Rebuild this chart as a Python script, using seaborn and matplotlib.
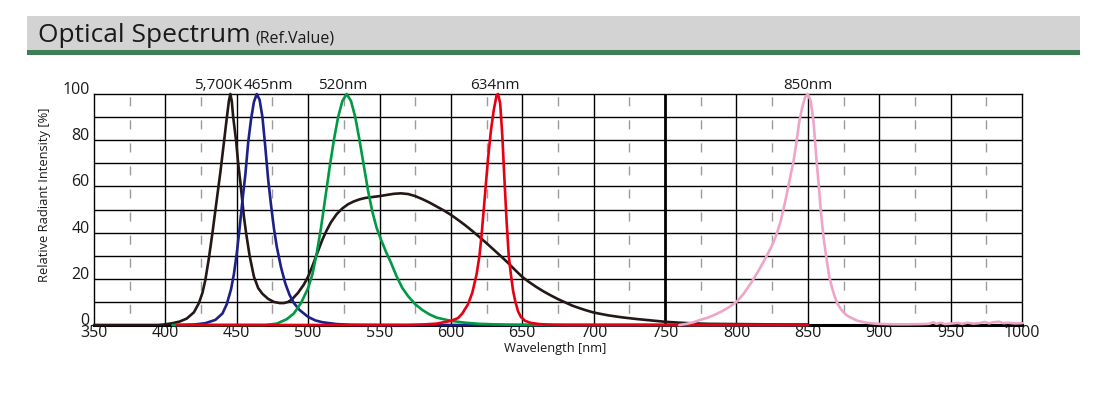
import numpy as np
import pandas as pd
import matplotlib
matplotlib.use("Agg")
import matplotlib.pyplot as plt
from matplotlib.patches import Rectangle
import seaborn as sns

# wavelength [nm] / relative intensity [%]
wl_5700k = [350, 395, 400, 405, 410, 415, 420, 423.5, 426, 428, 430.5, 433, 435, 437, 438.5, 441, 443,
            444.5, 445.5, 446.5, 447.5, 449.5, 451, 452.5, 453.5, 455, 456.5, 459, 462, 465, 468, 472,
            476, 480, 483, 486, 489, 493, 497, 500, 503, 506, 510, 513, 516, 520, 524, 528, 532, 536,
            540, 545, 550, 555, 560, 565, 570, 575, 580, 585, 590, 595, 600, 605, 610, 615, 620, 625,
            630, 635, 640, 645, 650, 655, 660, 665, 670, 675, 680, 685, 690, 695, 700, 710, 720, 730,
            740, 750, 760, 770, 780, 800, 820, 850]
val_5700k = [0, 0, 0.3, 0.8, 1.5, 2.8, 5.5, 9.5, 14, 19.5, 29, 40, 49.5, 59, 66, 79, 89.5,
             97, 100, 97, 90, 80, 70, 62, 56, 47, 40, 30, 21, 16, 13.5, 11.3,
             10, 9.5, 9.5, 10, 11.3, 14, 17.5, 21, 25.5, 30.5, 37, 41, 44.5, 48, 50.5, 52.3, 53.5, 54.4,
             55, 55.4, 55.8, 56.3, 56.8, 57, 56.7, 55.8, 54.5, 53, 51.3, 49.6, 47.7, 45.5, 43.2, 40.7, 38.1, 35.4,
             32.6, 29.8, 26.9, 23.8, 20.8, 18.5, 16.4, 14.5, 12.8, 11.2, 9.8, 8.4, 7.3, 6.3, 5.4, 4.2, 3.3, 2.6,
             2.0, 1.4, 1.0, 0.7, 0.5, 0.4, 0.3, 0.2]

wl_465 = [405, 410, 420, 428, 435, 440, 443, 446, 448, 450, 452, 454, 456, 458, 460, 462, 464, 466,
          468, 470, 472, 474, 476, 478, 481, 484, 487, 490, 494, 500, 505, 510, 520, 530, 550, 850]
val_465 = [0, 0, 0.2, 0.8, 2.2, 5, 9, 15.5, 22, 31, 42, 54, 65, 79, 89, 96.5, 100, 97.5,
           90, 77, 63, 52, 42, 34, 25, 18, 13, 9.5, 6.5, 3.5, 2, 1.2, 0.4, 0.1, 0, 0]

wl_520 = [405, 470, 478, 485, 490, 495, 500, 503, 506, 509, 512, 515, 518, 521, 524, 527, 530, 533,
          536, 539, 542, 545, 548, 551, 555, 558, 562, 566, 570, 575, 580, 585, 590, 600, 610, 620,
          640, 660, 850]
val_520 = [0, 0, 0.6, 2.5, 5, 9.5, 16, 22, 31, 42, 55, 68, 80, 90, 97, 100, 97, 90,
           80, 69, 58, 49, 42, 37, 31, 27, 21, 16, 12.5, 9, 6.5, 4.6, 3.2, 1.8, 1, 0.5,
           0.1, 0, 0]

wl_634 = [408, 570, 580, 590, 600, 605, 608, 612, 615, 618, 620, 621.5, 623, 624.5, 626, 628, 630,
          632, 633, 634.5, 636, 637.5, 639, 640.5, 642, 643.5, 645, 647, 649, 652, 656, 662, 670,
          680, 850]
val_634 = [0, 0, 0.2, 0.6, 1.8, 3, 5, 9, 14, 22, 30, 39, 50, 61, 72, 84, 93,
           99.5, 100, 96, 82, 63, 45, 30, 22, 15, 10.5, 6, 3.5, 1.8, 0.9, 0.4, 0.1,
           0, 0]

wl_850 = [760, 765, 770, 775, 780, 785, 790, 795, 800, 805, 810, 815, 820, 825, 828, 831, 834, 837,
          840, 842, 844, 846, 848, 850, 852, 854, 856, 858, 859, 861, 863, 865, 867, 869, 871, 873,
          875, 877, 880, 885, 890, 895, 900, 910, 920, 930, 935, 938, 940, 943, 946, 950, 955, 958,
          962, 966, 970, 974, 977, 980, 984, 987, 990, 995, 1000]
val_850 = [0, 0.5, 1.2, 2.3, 3.2, 4.5, 6, 7.8, 10, 13.5, 18, 23, 28.5, 34.5, 39, 45, 53, 62,
           71, 79, 88, 94, 98.5, 100, 97, 88, 72, 58, 50, 38, 29, 21, 16, 12, 9, 7,
           5.5, 4.3, 3.2, 1.8, 1.1, 0.7, 0.5, 0.3, 0.3, 0.4, 0.5, 1.2, 0.5, 1.0, 0.4, 0.6, 0.9, 0.5,
           1.0, 0.6, 0.8, 1.3, 0.7, 1.2, 1.4, 0.8, 1.0, 0.7, 0.8]

series = [
    ("5,700K", wl_5700k, val_5700k, "#231815"),
    ("465nm", wl_465, val_465, "#1d2088"),
    ("520nm", wl_520, val_520, "#009944"),
    ("634nm", wl_634, val_634, "#e60012"),
    ("850nm", wl_850, val_850, "#eea5c8"),
]

# peak labels: (text, x position)
peak_labels = [("5,700K", 437), ("465nm", 472), ("520nm", 524), ("634nm", 630.5), ("850nm", 850)]

x_ticks = list(range(350, 1001, 50))
y_ticks = list(range(0, 101, 20))

sns.set_theme(style="white")
plt.rcParams['font.family'] = ['Open Sans', 'DejaVu Sans']

fig = plt.figure(figsize=(11.07, 3.93), dpi=100)

# header band
fig.patches.append(Rectangle((0.0244, 0.8728), 0.9512, 0.0866, transform=fig.transFigure,
                             facecolor="#d3d3d3", edgecolor="none"))
fig.patches.append(Rectangle((0.0244, 0.860), 0.9512, 0.0128, transform=fig.transFigure,
                             facecolor="#3f7e56", edgecolor="none"))
t = fig.text(0.0345, 0.893, "Optical Spectrum", fontsize=19, color="#1a1a1a", va="baseline")
fig.canvas.draw()
bb = t.get_window_extent()
fig.text(bb.x1 / fig.bbox.width + 0.004, 0.893, "(Ref.Value)", fontsize=11.5,
         color="#1a1a1a", va="baseline")

ax = fig.add_axes([0.0849, 0.173, 0.8383, 0.5878])
ax.set_facecolor("white")

# grid
for y in range(10, 100, 10):
    ax.axhline(y, color="black", lw=1.0, zorder=1)
for x in range(400, 1000, 50):
    ax.axvline(x, color="black", lw=2.0 if x == 750 else 1.0, zorder=1)
for x in range(375, 1000, 50):
    ax.plot([x, x], [100, 0], color="#9a9a9a", lw=1.0, linestyle=(14.6, (6.5, 10.1)), zorder=1)

for s in ax.spines.values():
    s.set_color("black")
    s.set_linewidth(1.0)
    s.set_zorder(2)
ax.spines["bottom"].set_linewidth(2.2)

for name, wl, val, col in series:
    df = pd.DataFrame({"wl": wl, "val": val})
    sns.lineplot(data=df, x="wl", y="val", color=col, lw=1.9, ax=ax, zorder=5,
                 sort=False, estimator=None, clip_on=False)

for txt, xp in peak_labels:
    ax.text(xp, 102.3, txt, ha="center", va="baseline", fontsize=11, color="#1a1a1a")

ax.set_xlim(350, 1000)
ax.set_ylim(0, 100)
ax.set_xticks(x_ticks)
ax.set_yticks(y_ticks)
ax.tick_params(length=0, labelsize=11.5, labelcolor="#1a1a1a")
ax.tick_params(axis="x", pad=0)
ax.tick_params(axis="y", pad=3)
for lbl in ax.get_yticklabels():
    lbl.set_va("baseline")

ax.set_xlabel("Wavelength [nm]", fontsize=9.3, color="#1a1a1a")
ax.set_ylabel("Relative Radiant Intensity [%]", fontsize=9.3, color="#1a1a1a")
ax.xaxis.set_label_coords(0.497, -0.072)
ax.yaxis.set_label_coords(-0.046, 0.565)

fig.savefig("out.png", dpi=100)
